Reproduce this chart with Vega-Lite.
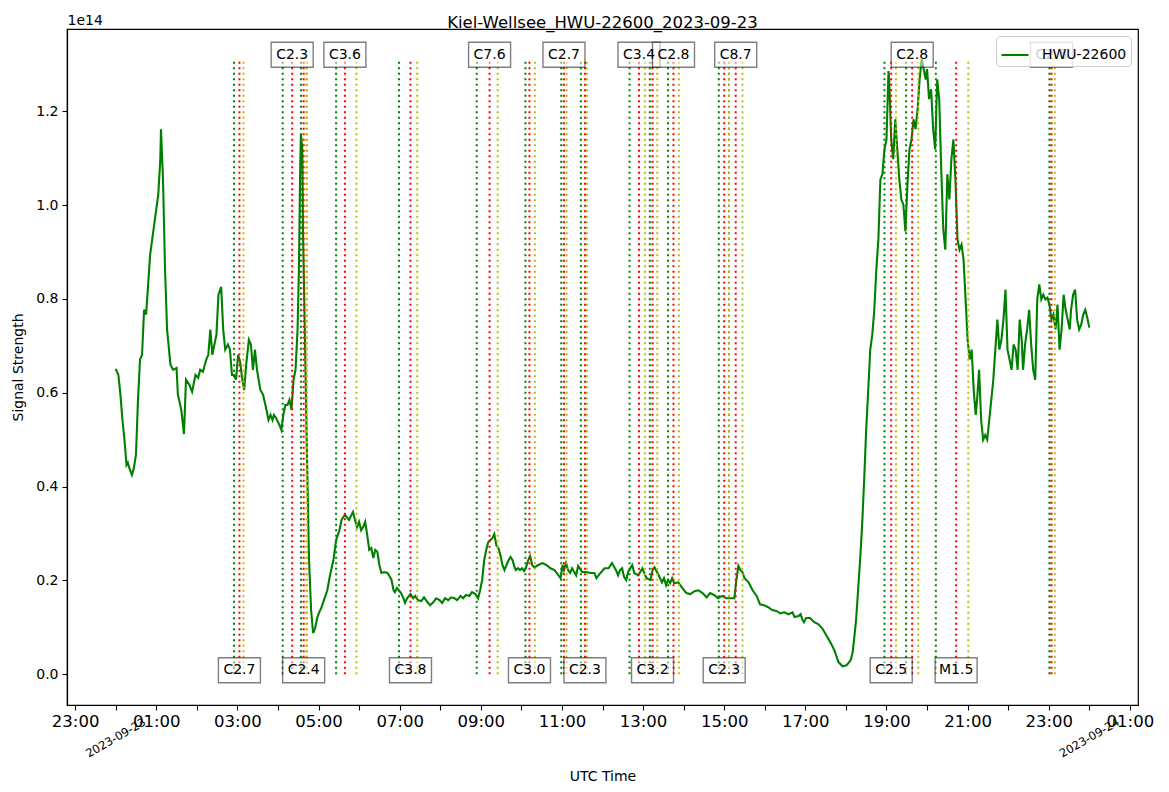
{
  "$schema": "https://vega.github.io/schema/vega-lite/v6.json",
  "width": 1071,
  "height": 676,
  "autosize": "none",
  "padding": {"left": 67, "top": 29, "right": 31, "bottom": 87},
  "title": {"text": "Kiel-Wellsee_HWU-22600_2023-09-23", "fontSize": 16.5, "fontWeight": "normal", "color": "black", "offset": 4, "dy": 22},
  "config": {
    "font": "DejaVu Sans",
    "view": {"stroke": "black", "strokeWidth": 1.2},
    "axis": {"grid": false, "domainColor": "black", "domainWidth": 1.2, "tickColor": "black", "tickWidth": 1.1, "tickSize": 5, "labelColor": "black", "titleColor": "black", "titleFontWeight": "normal"}
  },
  "datasets": {
    "signal": [
      {"time":"2023-09-23T00:00:00Z","signal":0.651e14},{"time":"2023-09-23T00:04:00Z","signal":0.638e14},{"time":"2023-09-23T00:07:00Z","signal":0.596e14},{"time":"2023-09-23T00:10:00Z","signal":0.542e14},
      {"time":"2023-09-23T00:13:00Z","signal":0.500e14},{"time":"2023-09-23T00:16:00Z","signal":0.446e14},{"time":"2023-09-23T00:18:00Z","signal":0.451e14},{"time":"2023-09-23T00:21:00Z","signal":0.436e14},
      {"time":"2023-09-23T00:24:00Z","signal":0.425e14},{"time":"2023-09-23T00:27:00Z","signal":0.440e14},{"time":"2023-09-23T00:30:00Z","signal":0.468e14},{"time":"2023-09-23T00:33:00Z","signal":0.585e14},
      {"time":"2023-09-23T00:36:00Z","signal":0.671e14},{"time":"2023-09-23T00:39:00Z","signal":0.681e14},{"time":"2023-09-23T00:42:00Z","signal":0.777e14},{"time":"2023-09-23T00:45:00Z","signal":0.767e14},
      {"time":"2023-09-23T00:48:00Z","signal":0.831e14},{"time":"2023-09-23T00:51:00Z","signal":0.895e14},{"time":"2023-09-23T00:54:00Z","signal":0.927e14},{"time":"2023-09-23T00:57:00Z","signal":0.959e14},
      {"time":"2023-09-23T01:00:00Z","signal":0.991e14},{"time":"2023-09-23T01:03:00Z","signal":1.023e14},{"time":"2023-09-23T01:06:00Z","signal":1.098e14},{"time":"2023-09-23T01:07:00Z","signal":1.162e14},
      {"time":"2023-09-23T01:10:00Z","signal":1.055e14},{"time":"2023-09-23T01:13:00Z","signal":0.863e14},{"time":"2023-09-23T01:16:00Z","signal":0.735e14},{"time":"2023-09-23T01:21:00Z","signal":0.660e14},
      {"time":"2023-09-23T01:25:00Z","signal":0.649e14},{"time":"2023-09-23T01:30:00Z","signal":0.653e14},{"time":"2023-09-23T01:32:00Z","signal":0.596e14},{"time":"2023-09-23T01:37:00Z","signal":0.564e14},
      {"time":"2023-09-23T01:41:00Z","signal":0.512e14},{"time":"2023-09-23T01:44:00Z","signal":0.628e14},{"time":"2023-09-23T01:49:00Z","signal":0.617e14},{"time":"2023-09-23T01:53:00Z","signal":0.602e14},
      {"time":"2023-09-23T01:58:00Z","signal":0.638e14},{"time":"2023-09-23T02:02:00Z","signal":0.632e14},{"time":"2023-09-23T02:05:00Z","signal":0.649e14},{"time":"2023-09-23T02:09:00Z","signal":0.645e14},
      {"time":"2023-09-23T02:14:00Z","signal":0.671e14},{"time":"2023-09-23T02:17:00Z","signal":0.681e14},{"time":"2023-09-23T02:20:00Z","signal":0.735e14},{"time":"2023-09-23T02:23:00Z","signal":0.681e14},
      {"time":"2023-09-23T02:26:00Z","signal":0.703e14},{"time":"2023-09-23T02:29:00Z","signal":0.724e14},{"time":"2023-09-23T02:32:00Z","signal":0.809e14},{"time":"2023-09-23T02:36:00Z","signal":0.826e14},
      {"time":"2023-09-23T02:39:00Z","signal":0.735e14},{"time":"2023-09-23T02:42:00Z","signal":0.692e14},{"time":"2023-09-23T02:46:00Z","signal":0.703e14},{"time":"2023-09-23T02:49:00Z","signal":0.692e14},
      {"time":"2023-09-23T02:52:00Z","signal":0.638e14},{"time":"2023-09-23T02:55:00Z","signal":0.638e14},{"time":"2023-09-23T02:58:00Z","signal":0.628e14},{"time":"2023-09-23T03:01:00Z","signal":0.681e14},
      {"time":"2023-09-23T03:04:00Z","signal":0.666e14},{"time":"2023-09-23T03:07:00Z","signal":0.632e14},{"time":"2023-09-23T03:10:00Z","signal":0.606e14},{"time":"2023-09-23T03:13:00Z","signal":0.660e14},
      {"time":"2023-09-23T03:17:00Z","signal":0.713e14},{"time":"2023-09-23T03:20:00Z","signal":0.703e14},{"time":"2023-09-23T03:23:00Z","signal":0.649e14},{"time":"2023-09-23T03:26:00Z","signal":0.692e14},
      {"time":"2023-09-23T03:29:00Z","signal":0.649e14},{"time":"2023-09-23T03:34:00Z","signal":0.606e14},{"time":"2023-09-23T03:38:00Z","signal":0.596e14},{"time":"2023-09-23T03:43:00Z","signal":0.564e14},
      {"time":"2023-09-23T03:46:00Z","signal":0.542e14},{"time":"2023-09-23T03:49:00Z","signal":0.553e14},{"time":"2023-09-23T03:52:00Z","signal":0.542e14},{"time":"2023-09-23T03:54:00Z","signal":0.553e14},
      {"time":"2023-09-23T03:57:00Z","signal":0.547e14},{"time":"2023-09-23T04:02:00Z","signal":0.532e14},{"time":"2023-09-23T04:05:00Z","signal":0.521e14},{"time":"2023-09-23T04:08:00Z","signal":0.553e14},
      {"time":"2023-09-23T04:11:00Z","signal":0.574e14},{"time":"2023-09-23T04:14:00Z","signal":0.574e14},{"time":"2023-09-23T04:17:00Z","signal":0.585e14},{"time":"2023-09-23T04:20:00Z","signal":0.564e14},
      {"time":"2023-09-23T04:23:00Z","signal":0.628e14},{"time":"2023-09-23T04:26:00Z","signal":0.649e14},{"time":"2023-09-23T04:29:00Z","signal":0.735e14},{"time":"2023-09-23T04:31:00Z","signal":0.863e14},
      {"time":"2023-09-23T04:33:00Z","signal":1.087e14},{"time":"2023-09-23T04:34:00Z","signal":1.151e14},{"time":"2023-09-23T04:36:00Z","signal":1.119e14},{"time":"2023-09-23T04:37:00Z","signal":0.948e14},
      {"time":"2023-09-23T04:40:00Z","signal":0.713e14},{"time":"2023-09-23T04:43:00Z","signal":0.457e14},{"time":"2023-09-23T04:46:00Z","signal":0.243e14},{"time":"2023-09-23T04:49:00Z","signal":0.137e14},
      {"time":"2023-09-23T04:52:00Z","signal":0.088e14},{"time":"2023-09-23T04:55:00Z","signal":0.098e14},{"time":"2023-09-23T04:58:00Z","signal":0.120e14},{"time":"2023-09-23T05:01:00Z","signal":0.132e14},
      {"time":"2023-09-23T05:04:00Z","signal":0.141e14},{"time":"2023-09-23T05:08:00Z","signal":0.158e14},{"time":"2023-09-23T05:13:00Z","signal":0.179e14},{"time":"2023-09-23T05:17:00Z","signal":0.211e14},
      {"time":"2023-09-23T05:22:00Z","signal":0.243e14},{"time":"2023-09-23T05:26:00Z","signal":0.286e14},{"time":"2023-09-23T05:31:00Z","signal":0.307e14},{"time":"2023-09-23T05:34:00Z","signal":0.329e14},
      {"time":"2023-09-23T05:39:00Z","signal":0.340e14},{"time":"2023-09-23T05:45:00Z","signal":0.329e14},{"time":"2023-09-23T05:51:00Z","signal":0.346e14},{"time":"2023-09-23T05:54:00Z","signal":0.329e14},
      {"time":"2023-09-23T05:57:00Z","signal":0.314e14},{"time":"2023-09-23T06:00:00Z","signal":0.325e14},{"time":"2023-09-23T06:03:00Z","signal":0.307e14},{"time":"2023-09-23T06:06:00Z","signal":0.314e14},
      {"time":"2023-09-23T06:09:00Z","signal":0.325e14},{"time":"2023-09-23T06:12:00Z","signal":0.297e14},{"time":"2023-09-23T06:15:00Z","signal":0.265e14},{"time":"2023-09-23T06:18:00Z","signal":0.269e14},
      {"time":"2023-09-23T06:21:00Z","signal":0.248e14},{"time":"2023-09-23T06:24:00Z","signal":0.265e14},{"time":"2023-09-23T06:27:00Z","signal":0.261e14},{"time":"2023-09-23T06:30:00Z","signal":0.233e14},
      {"time":"2023-09-23T06:33:00Z","signal":0.216e14},{"time":"2023-09-23T06:37:00Z","signal":0.218e14},{"time":"2023-09-23T06:42:00Z","signal":0.216e14},{"time":"2023-09-23T06:45:00Z","signal":0.209e14},
      {"time":"2023-09-23T06:48:00Z","signal":0.201e14},{"time":"2023-09-23T06:51:00Z","signal":0.179e14},{"time":"2023-09-23T06:53:00Z","signal":0.175e14},{"time":"2023-09-23T06:56:00Z","signal":0.184e14},
      {"time":"2023-09-23T06:59:00Z","signal":0.179e14},{"time":"2023-09-23T07:02:00Z","signal":0.173e14},{"time":"2023-09-23T07:05:00Z","signal":0.164e14},{"time":"2023-09-23T07:08:00Z","signal":0.152e14},
      {"time":"2023-09-23T07:11:00Z","signal":0.162e14},{"time":"2023-09-23T07:16:00Z","signal":0.171e14},{"time":"2023-09-23T07:20:00Z","signal":0.162e14},{"time":"2023-09-23T07:23:00Z","signal":0.167e14},
      {"time":"2023-09-23T07:27:00Z","signal":0.158e14},{"time":"2023-09-23T07:32:00Z","signal":0.156e14},{"time":"2023-09-23T07:36:00Z","signal":0.164e14},{"time":"2023-09-23T07:41:00Z","signal":0.154e14},
      {"time":"2023-09-23T07:45:00Z","signal":0.147e14},{"time":"2023-09-23T07:50:00Z","signal":0.154e14},{"time":"2023-09-23T07:54:00Z","signal":0.162e14},{"time":"2023-09-23T07:59:00Z","signal":0.158e14},
      {"time":"2023-09-23T08:03:00Z","signal":0.152e14},{"time":"2023-09-23T08:07:00Z","signal":0.162e14},{"time":"2023-09-23T08:12:00Z","signal":0.158e14},{"time":"2023-09-23T08:16:00Z","signal":0.164e14},
      {"time":"2023-09-23T08:21:00Z","signal":0.162e14},{"time":"2023-09-23T08:25:00Z","signal":0.158e14},{"time":"2023-09-23T08:30:00Z","signal":0.167e14},{"time":"2023-09-23T08:34:00Z","signal":0.162e14},
      {"time":"2023-09-23T08:38:00Z","signal":0.169e14},{"time":"2023-09-23T08:43:00Z","signal":0.167e14},{"time":"2023-09-23T08:47:00Z","signal":0.175e14},{"time":"2023-09-23T08:52:00Z","signal":0.171e14},
      {"time":"2023-09-23T08:56:00Z","signal":0.162e14},{"time":"2023-09-23T08:59:00Z","signal":0.179e14},{"time":"2023-09-23T09:02:00Z","signal":0.201e14},{"time":"2023-09-23T09:05:00Z","signal":0.243e14},
      {"time":"2023-09-23T09:08:00Z","signal":0.265e14},{"time":"2023-09-23T09:11:00Z","signal":0.282e14},{"time":"2023-09-23T09:14:00Z","signal":0.286e14},{"time":"2023-09-23T09:17:00Z","signal":0.290e14},
      {"time":"2023-09-23T09:20:00Z","signal":0.299e14},{"time":"2023-09-23T09:23:00Z","signal":0.275e14},{"time":"2023-09-23T09:26:00Z","signal":0.269e14},{"time":"2023-09-23T09:29:00Z","signal":0.254e14},
      {"time":"2023-09-23T09:32:00Z","signal":0.233e14},{"time":"2023-09-23T09:35:00Z","signal":0.222e14},{"time":"2023-09-23T09:38:00Z","signal":0.233e14},{"time":"2023-09-23T09:41:00Z","signal":0.243e14},
      {"time":"2023-09-23T09:44:00Z","signal":0.250e14},{"time":"2023-09-23T09:47:00Z","signal":0.243e14},{"time":"2023-09-23T09:50:00Z","signal":0.228e14},{"time":"2023-09-23T09:52:00Z","signal":0.222e14},
      {"time":"2023-09-23T09:55:00Z","signal":0.226e14},{"time":"2023-09-23T09:58:00Z","signal":0.222e14},{"time":"2023-09-23T10:01:00Z","signal":0.226e14},{"time":"2023-09-23T10:04:00Z","signal":0.220e14},
      {"time":"2023-09-23T10:07:00Z","signal":0.228e14},{"time":"2023-09-23T10:10:00Z","signal":0.243e14},{"time":"2023-09-23T10:13:00Z","signal":0.252e14},{"time":"2023-09-23T10:16:00Z","signal":0.233e14},
      {"time":"2023-09-23T10:19:00Z","signal":0.228e14},{"time":"2023-09-23T10:25:00Z","signal":0.233e14},{"time":"2023-09-23T10:31:00Z","signal":0.237e14},{"time":"2023-09-23T10:37:00Z","signal":0.233e14},
      {"time":"2023-09-23T10:43:00Z","signal":0.226e14},{"time":"2023-09-23T10:49:00Z","signal":0.222e14},{"time":"2023-09-23T10:55:00Z","signal":0.211e14},{"time":"2023-09-23T10:58:00Z","signal":0.205e14},
      {"time":"2023-09-23T11:01:00Z","signal":0.233e14},{"time":"2023-09-23T11:03:00Z","signal":0.222e14},{"time":"2023-09-23T11:06:00Z","signal":0.237e14},{"time":"2023-09-23T11:09:00Z","signal":0.222e14},
      {"time":"2023-09-23T11:12:00Z","signal":0.216e14},{"time":"2023-09-23T11:15:00Z","signal":0.226e14},{"time":"2023-09-23T11:21:00Z","signal":0.211e14},{"time":"2023-09-23T11:24:00Z","signal":0.231e14},
      {"time":"2023-09-23T11:30:00Z","signal":0.218e14},{"time":"2023-09-23T11:36:00Z","signal":0.218e14},{"time":"2023-09-23T11:42:00Z","signal":0.216e14},{"time":"2023-09-23T11:48:00Z","signal":0.216e14},
      {"time":"2023-09-23T11:51:00Z","signal":0.205e14},{"time":"2023-09-23T11:57:00Z","signal":0.216e14},{"time":"2023-09-23T12:03:00Z","signal":0.226e14},{"time":"2023-09-23T12:09:00Z","signal":0.226e14},
      {"time":"2023-09-23T12:14:00Z","signal":0.237e14},{"time":"2023-09-23T12:20:00Z","signal":0.222e14},{"time":"2023-09-23T12:23:00Z","signal":0.211e14},{"time":"2023-09-23T12:26:00Z","signal":0.222e14},
      {"time":"2023-09-23T12:29:00Z","signal":0.226e14},{"time":"2023-09-23T12:32:00Z","signal":0.207e14},{"time":"2023-09-23T12:35:00Z","signal":0.201e14},{"time":"2023-09-23T12:38:00Z","signal":0.218e14},
      {"time":"2023-09-23T12:44:00Z","signal":0.233e14},{"time":"2023-09-23T12:47:00Z","signal":0.216e14},{"time":"2023-09-23T12:53:00Z","signal":0.211e14},{"time":"2023-09-23T12:59:00Z","signal":0.226e14},
      {"time":"2023-09-23T13:05:00Z","signal":0.205e14},{"time":"2023-09-23T13:11:00Z","signal":0.201e14},{"time":"2023-09-23T13:14:00Z","signal":0.222e14},{"time":"2023-09-23T13:17:00Z","signal":0.228e14},
      {"time":"2023-09-23T13:23:00Z","signal":0.211e14},{"time":"2023-09-23T13:28:00Z","signal":0.196e14},{"time":"2023-09-23T13:31:00Z","signal":0.205e14},{"time":"2023-09-23T13:34:00Z","signal":0.190e14},
      {"time":"2023-09-23T13:37:00Z","signal":0.201e14},{"time":"2023-09-23T13:40:00Z","signal":0.194e14},{"time":"2023-09-23T13:43:00Z","signal":0.205e14},{"time":"2023-09-23T13:46:00Z","signal":0.194e14},
      {"time":"2023-09-23T13:52:00Z","signal":0.196e14},{"time":"2023-09-23T13:58:00Z","signal":0.184e14},{"time":"2023-09-23T14:04:00Z","signal":0.173e14},{"time":"2023-09-23T14:10:00Z","signal":0.171e14},
      {"time":"2023-09-23T14:16:00Z","signal":0.177e14},{"time":"2023-09-23T14:22:00Z","signal":0.179e14},{"time":"2023-09-23T14:28:00Z","signal":0.173e14},{"time":"2023-09-23T14:34:00Z","signal":0.164e14},
      {"time":"2023-09-23T14:39:00Z","signal":0.173e14},{"time":"2023-09-23T14:45:00Z","signal":0.169e14},{"time":"2023-09-23T14:51:00Z","signal":0.162e14},{"time":"2023-09-23T14:57:00Z","signal":0.167e14},
      {"time":"2023-09-23T15:03:00Z","signal":0.162e14},{"time":"2023-09-23T15:09:00Z","signal":0.162e14},{"time":"2023-09-23T15:15:00Z","signal":0.162e14},{"time":"2023-09-23T15:18:00Z","signal":0.201e14},
      {"time":"2023-09-23T15:21:00Z","signal":0.231e14},{"time":"2023-09-23T15:24:00Z","signal":0.222e14},{"time":"2023-09-23T15:27:00Z","signal":0.218e14},{"time":"2023-09-23T15:30:00Z","signal":0.205e14},
      {"time":"2023-09-23T15:36:00Z","signal":0.196e14},{"time":"2023-09-23T15:42:00Z","signal":0.179e14},{"time":"2023-09-23T15:48:00Z","signal":0.167e14},{"time":"2023-09-23T15:53:00Z","signal":0.149e14},
      {"time":"2023-09-23T15:59:00Z","signal":0.147e14},{"time":"2023-09-23T16:05:00Z","signal":0.143e14},{"time":"2023-09-23T16:11:00Z","signal":0.137e14},{"time":"2023-09-23T16:17:00Z","signal":0.135e14},
      {"time":"2023-09-23T16:23:00Z","signal":0.130e14},{"time":"2023-09-23T16:29:00Z","signal":0.132e14},{"time":"2023-09-23T16:35:00Z","signal":0.128e14},{"time":"2023-09-23T16:41:00Z","signal":0.132e14},
      {"time":"2023-09-23T16:44:00Z","signal":0.122e14},{"time":"2023-09-23T16:50:00Z","signal":0.124e14},{"time":"2023-09-23T16:53:00Z","signal":0.128e14},{"time":"2023-09-23T16:56:00Z","signal":0.115e14},
      {"time":"2023-09-23T16:58:00Z","signal":0.111e14},{"time":"2023-09-23T17:01:00Z","signal":0.120e14},{"time":"2023-09-23T17:07:00Z","signal":0.120e14},{"time":"2023-09-23T17:13:00Z","signal":0.111e14},
      {"time":"2023-09-23T17:19:00Z","signal":0.107e14},{"time":"2023-09-23T17:25:00Z","signal":0.098e14},{"time":"2023-09-23T17:31:00Z","signal":0.083e14},{"time":"2023-09-23T17:37:00Z","signal":0.068e14},
      {"time":"2023-09-23T17:43:00Z","signal":0.051e14},{"time":"2023-09-23T17:49:00Z","signal":0.026e14},{"time":"2023-09-23T17:55:00Z","signal":0.017e14},{"time":"2023-09-23T18:01:00Z","signal":0.019e14},
      {"time":"2023-09-23T18:07:00Z","signal":0.030e14},{"time":"2023-09-23T18:10:00Z","signal":0.047e14},{"time":"2023-09-23T18:12:00Z","signal":0.073e14},{"time":"2023-09-23T18:15:00Z","signal":0.115e14},
      {"time":"2023-09-23T18:18:00Z","signal":0.179e14},{"time":"2023-09-23T18:21:00Z","signal":0.243e14},{"time":"2023-09-23T18:24:00Z","signal":0.318e14},{"time":"2023-09-23T18:27:00Z","signal":0.414e14},
      {"time":"2023-09-23T18:30:00Z","signal":0.521e14},{"time":"2023-09-23T18:33:00Z","signal":0.606e14},{"time":"2023-09-23T18:36:00Z","signal":0.692e14},{"time":"2023-09-23T18:39:00Z","signal":0.724e14},
      {"time":"2023-09-23T18:42:00Z","signal":0.777e14},{"time":"2023-09-23T18:45:00Z","signal":0.863e14},{"time":"2023-09-23T18:48:00Z","signal":0.927e14},{"time":"2023-09-23T18:51:00Z","signal":1.055e14},
      {"time":"2023-09-23T18:54:00Z","signal":1.066e14},{"time":"2023-09-23T18:57:00Z","signal":1.119e14},{"time":"2023-09-23T19:00:00Z","signal":1.140e14},{"time":"2023-09-23T19:03:00Z","signal":1.286e14},
      {"time":"2023-09-23T19:04:00Z","signal":1.268e14},{"time":"2023-09-23T19:07:00Z","signal":1.140e14},{"time":"2023-09-23T19:10:00Z","signal":1.098e14},{"time":"2023-09-23T19:13:00Z","signal":1.183e14},
      {"time":"2023-09-23T19:16:00Z","signal":1.119e14},{"time":"2023-09-23T19:19:00Z","signal":1.055e14},{"time":"2023-09-23T19:22:00Z","signal":1.012e14},{"time":"2023-09-23T19:25:00Z","signal":1.001e14},
      {"time":"2023-09-23T19:28:00Z","signal":0.944e14},{"time":"2023-09-23T19:31:00Z","signal":1.044e14},{"time":"2023-09-23T19:34:00Z","signal":1.119e14},{"time":"2023-09-23T19:37:00Z","signal":1.140e14},
      {"time":"2023-09-23T19:40:00Z","signal":1.183e14},{"time":"2023-09-23T19:43:00Z","signal":1.162e14},{"time":"2023-09-23T19:46:00Z","signal":1.204e14},{"time":"2023-09-23T19:49:00Z","signal":1.268e14},
      {"time":"2023-09-23T19:52:00Z","signal":1.311e14},{"time":"2023-09-23T19:55:00Z","signal":1.290e14},{"time":"2023-09-23T19:58:00Z","signal":1.268e14},{"time":"2023-09-23T20:00:00Z","signal":1.290e14},
      {"time":"2023-09-23T20:03:00Z","signal":1.226e14},{"time":"2023-09-23T20:06:00Z","signal":1.247e14},{"time":"2023-09-23T20:09:00Z","signal":1.162e14},{"time":"2023-09-23T20:12:00Z","signal":1.119e14},
      {"time":"2023-09-23T20:15:00Z","signal":1.268e14},{"time":"2023-09-23T20:18:00Z","signal":1.226e14},{"time":"2023-09-23T20:21:00Z","signal":1.076e14},{"time":"2023-09-23T20:24:00Z","signal":0.948e14},
      {"time":"2023-09-23T20:27:00Z","signal":0.905e14},{"time":"2023-09-23T20:30:00Z","signal":1.066e14},{"time":"2023-09-23T20:33:00Z","signal":1.012e14},{"time":"2023-09-23T20:36:00Z","signal":1.098e14},
      {"time":"2023-09-23T20:39:00Z","signal":1.140e14},{"time":"2023-09-23T20:42:00Z","signal":1.055e14},{"time":"2023-09-23T20:45:00Z","signal":0.927e14},{"time":"2023-09-23T20:48:00Z","signal":0.905e14},
      {"time":"2023-09-23T20:51:00Z","signal":0.916e14},{"time":"2023-09-23T20:54:00Z","signal":0.884e14},{"time":"2023-09-23T20:57:00Z","signal":0.799e14},{"time":"2023-09-23T21:00:00Z","signal":0.713e14},
      {"time":"2023-09-23T21:03:00Z","signal":0.671e14},{"time":"2023-09-23T21:06:00Z","signal":0.692e14},{"time":"2023-09-23T21:09:00Z","signal":0.606e14},{"time":"2023-09-23T21:12:00Z","signal":0.553e14},
      {"time":"2023-09-23T21:14:00Z","signal":0.585e14},{"time":"2023-09-23T21:17:00Z","signal":0.649e14},{"time":"2023-09-23T21:20:00Z","signal":0.542e14},{"time":"2023-09-23T21:23:00Z","signal":0.500e14},
      {"time":"2023-09-23T21:26:00Z","signal":0.510e14},{"time":"2023-09-23T21:29:00Z","signal":0.500e14},{"time":"2023-09-23T21:32:00Z","signal":0.542e14},{"time":"2023-09-23T21:35:00Z","signal":0.585e14},
      {"time":"2023-09-23T21:38:00Z","signal":0.628e14},{"time":"2023-09-23T21:41:00Z","signal":0.692e14},{"time":"2023-09-23T21:44:00Z","signal":0.756e14},{"time":"2023-09-23T21:47:00Z","signal":0.692e14},
      {"time":"2023-09-23T21:50:00Z","signal":0.713e14},{"time":"2023-09-23T21:53:00Z","signal":0.756e14},{"time":"2023-09-23T21:56:00Z","signal":0.820e14},{"time":"2023-09-23T21:59:00Z","signal":0.692e14},
      {"time":"2023-09-23T22:02:00Z","signal":0.671e14},{"time":"2023-09-23T22:05:00Z","signal":0.649e14},{"time":"2023-09-23T22:08:00Z","signal":0.703e14},{"time":"2023-09-23T22:11:00Z","signal":0.692e14},
      {"time":"2023-09-23T22:14:00Z","signal":0.649e14},{"time":"2023-09-23T22:17:00Z","signal":0.756e14},{"time":"2023-09-23T22:20:00Z","signal":0.713e14},{"time":"2023-09-23T22:22:00Z","signal":0.649e14},
      {"time":"2023-09-23T22:25:00Z","signal":0.703e14},{"time":"2023-09-23T22:28:00Z","signal":0.735e14},{"time":"2023-09-23T22:31:00Z","signal":0.777e14},{"time":"2023-09-23T22:34:00Z","signal":0.703e14},
      {"time":"2023-09-23T22:37:00Z","signal":0.649e14},{"time":"2023-09-23T22:40:00Z","signal":0.628e14},{"time":"2023-09-23T22:43:00Z","signal":0.799e14},{"time":"2023-09-23T22:46:00Z","signal":0.831e14},
      {"time":"2023-09-23T22:49:00Z","signal":0.799e14},{"time":"2023-09-23T22:52:00Z","signal":0.809e14},{"time":"2023-09-23T22:55:00Z","signal":0.799e14},{"time":"2023-09-23T22:58:00Z","signal":0.803e14},
      {"time":"2023-09-23T23:01:00Z","signal":0.788e14},{"time":"2023-09-23T23:04:00Z","signal":0.756e14},{"time":"2023-09-23T23:07:00Z","signal":0.767e14},{"time":"2023-09-23T23:10:00Z","signal":0.735e14},
      {"time":"2023-09-23T23:13:00Z","signal":0.788e14},{"time":"2023-09-23T23:16:00Z","signal":0.692e14},{"time":"2023-09-23T23:19:00Z","signal":0.735e14},{"time":"2023-09-23T23:22:00Z","signal":0.809e14},
      {"time":"2023-09-23T23:25:00Z","signal":0.777e14},{"time":"2023-09-23T23:28:00Z","signal":0.756e14},{"time":"2023-09-23T23:31:00Z","signal":0.735e14},{"time":"2023-09-23T23:33:00Z","signal":0.777e14},
      {"time":"2023-09-23T23:36:00Z","signal":0.809e14},{"time":"2023-09-23T23:39:00Z","signal":0.820e14},{"time":"2023-09-23T23:42:00Z","signal":0.756e14},{"time":"2023-09-23T23:45:00Z","signal":0.735e14},
      {"time":"2023-09-23T23:48:00Z","signal":0.745e14},{"time":"2023-09-23T23:51:00Z","signal":0.767e14},{"time":"2023-09-23T23:54:00Z","signal":0.777e14},{"time":"2023-09-23T23:57:00Z","signal":0.760e14},
      {"time":"2023-09-24T00:00:00Z","signal":0.739e14}
    ],
    "flares": [
      {"cls":"C2.7","row":"lower","start":"2023-09-23T02:55:00Z","peak":"2023-09-23T03:03:00Z","end":"2023-09-23T03:09:00Z"},
      {"cls":"C2.3","row":"upper","start":"2023-09-23T04:07:00Z","peak":"2023-09-23T04:21:00Z","end":"2023-09-23T04:42:00Z"},
      {"cls":"C2.4","row":"lower","start":"2023-09-23T04:34:00Z","peak":"2023-09-23T04:38:00Z","end":"2023-09-23T04:43:00Z"},
      {"cls":"C3.6","row":"upper","start":"2023-09-23T05:26:00Z","peak":"2023-09-23T05:39:00Z","end":"2023-09-23T05:56:00Z"},
      {"cls":"C3.8","row":"lower","start":"2023-09-23T06:59:00Z","peak":"2023-09-23T07:16:00Z","end":"2023-09-23T07:26:00Z"},
      {"cls":"C7.6","row":"upper","start":"2023-09-23T08:54:00Z","peak":"2023-09-23T09:13:00Z","end":"2023-09-23T09:25:00Z"},
      {"cls":"C3.0","row":"lower","start":"2023-09-23T10:06:00Z","peak":"2023-09-23T10:12:00Z","end":"2023-09-23T10:20:00Z"},
      {"cls":"C2.7","row":"upper","start":"2023-09-23T10:59:00Z","peak":"2023-09-23T11:03:00Z","end":"2023-09-23T11:07:00Z"},
      {"cls":"C2.3","row":"lower","start":"2023-09-23T11:28:00Z","peak":"2023-09-23T11:34:00Z","end":"2023-09-23T11:37:00Z"},
      {"cls":"C3.4","row":"upper","start":"2023-09-23T12:40:00Z","peak":"2023-09-23T12:54:00Z","end":"2023-09-23T13:03:00Z"},
      {"cls":"C3.2","row":"lower","start":"2023-09-23T13:10:00Z","peak":"2023-09-23T13:14:00Z","end":"2023-09-23T13:21:00Z"},
      {"cls":"C2.8","row":"upper","start":"2023-09-23T13:37:00Z","peak":"2023-09-23T13:45:00Z","end":"2023-09-23T13:53:00Z"},
      {"cls":"C2.3","row":"lower","start":"2023-09-23T14:52:00Z","peak":"2023-09-23T15:00:00Z","end":"2023-09-23T15:07:00Z"},
      {"cls":"C8.7","row":"upper","start":"2023-09-23T15:07:00Z","peak":"2023-09-23T15:17:00Z","end":"2023-09-23T15:27:00Z"},
      {"cls":"C2.5","row":"lower","start":"2023-09-23T18:57:00Z","peak":"2023-09-23T19:07:00Z","end":"2023-09-23T19:14:00Z"},
      {"cls":"C2.8","row":"upper","start":"2023-09-23T19:29:00Z","peak":"2023-09-23T19:38:00Z","end":"2023-09-23T19:47:00Z"},
      {"cls":"M1.5","row":"lower","start":"2023-09-23T20:13:00Z","peak":"2023-09-23T20:43:00Z","end":"2023-09-23T21:01:00Z"},
      {"cls":"C2.6","row":"upper","start":"2023-09-23T23:01:00Z","peak":"2023-09-23T23:04:00Z","end":"2023-09-23T23:09:00Z"}
    ]
  },
  "layer": [
    {
      "data": {"name": "signal"},
      "mark": {"type": "line", "strokeWidth": 2.1},
      "encoding": {
        "x": {
          "field": "time", "type": "temporal",
          "scale": {"type": "utc", "domain": [1695422880000, 1695517920000], "nice": false},
          "axis": {
            "orient": "bottom",
            "values": [1695423600000, 1695427200000, 1695430800000, 1695434400000, 1695438000000, 1695441600000, 1695445200000, 1695448800000, 1695452400000, 1695456000000, 1695459600000, 1695463200000, 1695466800000, 1695470400000, 1695474000000, 1695477600000, 1695481200000, 1695484800000, 1695488400000, 1695492000000, 1695495600000, 1695499200000, 1695502800000, 1695506400000, 1695510000000, 1695513600000, 1695517200000],
            "labelExpr": "utchours(datum.value) % 2 == 1 ? utcFormat(datum.value, '%H:%M') : ''",
            "labelFontSize": 16.5, "labelPadding": 3, "labelFlush": false, "labelOverlap": false,
            "title": "UTC Time", "titleFontSize": 14, "titlePadding": 40
          }
        },
        "y": {
          "field": "signal", "type": "quantitative",
          "scale": {"domain": [-0.0655e14, 1.3755e14], "nice": false, "zero": false},
          "axis": {
            "values": [0, 0.2e14, 0.4e14, 0.6e14, 0.8e14, 1.0e14, 1.2e14],
            "labelExpr": "format(datum.value / 1e14, '.1f')",
            "labelFontSize": 14, "labelPadding": 4,
            "title": "Signal Strength", "titleFontSize": 14, "titlePadding": 10
          }
        },
        "color": {
          "datum": "HWU-22600", "type": "nominal",
          "scale": {"range": ["#008000"]},
          "legend": {
            "title": null, "orient": "top-right", "offset": 7,
            "fillColor": "rgba(255,255,255,0.8)", "strokeColor": "#cccccc", "cornerRadius": 4, "padding": 4,
            "symbolType": "stroke", "symbolStrokeWidth": 2.1, "symbolSize": 729,
            "labelFontSize": 14, "labelOffset": 12, "labelColor": "black"
          }
        }
      }
    },
    {
      "data": {"name": "flares"},
      "mark": {"type": "rule", "color": "#008000", "strokeWidth": 2, "strokeDash": [2, 3.5]},
      "encoding": {
        "x": {
          "field": "start", "type": "temporal",
          "axis": {
            "orient": "bottom",
            "values": [1695427200000, 1695513600000],
            "labelExpr": "utcFormat(datum.value, '%Y-%m-%d')",
            "labelAngle": -30, "labelAlign": "center", "labelBaseline": "middle",
            "labelFontSize": 11.5, "labelPadding": 33, "ticks": false, "domain": false,
            "labelFlush": false, "labelOverlap": false, "title": null
          }
        },
        "y": {
          "datum": 0, "type": "quantitative",
          "axis": {
            "orient": "left", "labels": false, "ticks": false, "domain": false,
            "title": "1e14", "titleAngle": 0, "titleX": 0, "titleY": -5,
            "titleAlign": "left", "titleBaseline": "alphabetic", "titleFontSize": 14
          }
        },
        "y2": {"datum": 1.31e14}
      }
    },
    {
      "data": {"name": "flares"},
      "mark": {"type": "rule", "color": "#ff0000", "strokeWidth": 2, "strokeDash": [2, 3.5]},
      "encoding": {
        "x": {"field": "peak", "type": "temporal", "axis": null},
        "y": {"datum": 0, "type": "quantitative", "axis": null},
        "y2": {"datum": 1.31e14}
      }
    },
    {
      "data": {"name": "flares"},
      "mark": {"type": "rule", "color": "#bfbf00", "strokeWidth": 2, "strokeDash": [2, 3.5]},
      "encoding": {
        "x": {"field": "end", "type": "temporal", "axis": null},
        "y": {"datum": 0, "type": "quantitative", "axis": null},
        "y2": {"datum": 1.31e14}
      }
    },
    {
      "data": {"name": "flares"},
      "transform": [{"filter": "datum.row == 'upper'"}],
      "mark": {"type": "point", "shape": "M-1,-0.595L1,-0.595L1,0.595L-1,0.595Z", "size": 1764, "filled": true, "fill": "white", "fillOpacity": 0.5, "stroke": "black", "strokeOpacity": 0.5, "strokeWidth": 1.4, "opacity": 1},
      "encoding": {
        "x": {"field": "peak", "type": "temporal", "axis": null},
        "y": {"datum": 1.3207e14, "type": "quantitative", "axis": null}
      }
    },
    {
      "data": {"name": "flares"},
      "transform": [{"filter": "datum.row == 'upper'"}],
      "mark": {"type": "text", "fontSize": 14, "color": "black", "align": "center", "baseline": "middle"},
      "encoding": {
        "x": {"field": "peak", "type": "temporal", "axis": null},
        "y": {"datum": 1.3207e14, "type": "quantitative", "axis": null},
        "text": {"field": "cls"}
      }
    },
    {
      "data": {"name": "flares"},
      "transform": [{"filter": "datum.row == 'lower'"}],
      "mark": {"type": "point", "shape": "M-1,-0.595L1,-0.595L1,0.595L-1,0.595Z", "size": 1764, "filled": true, "fill": "white", "fillOpacity": 0.5, "stroke": "black", "strokeOpacity": 0.5, "strokeWidth": 1.4, "opacity": 1},
      "encoding": {
        "x": {"field": "peak", "type": "temporal", "axis": null},
        "y": {"datum": 0.0085e14, "type": "quantitative", "axis": null}
      }
    },
    {
      "data": {"name": "flares"},
      "transform": [{"filter": "datum.row == 'lower'"}],
      "mark": {"type": "text", "fontSize": 14, "color": "black", "align": "center", "baseline": "middle"},
      "encoding": {
        "x": {"field": "peak", "type": "temporal", "axis": null},
        "y": {"datum": 0.0085e14, "type": "quantitative", "axis": null},
        "text": {"field": "cls"}
      }
    }
  ],
  "resolve": {"axis": {"x": "independent", "y": "independent"}}
}
